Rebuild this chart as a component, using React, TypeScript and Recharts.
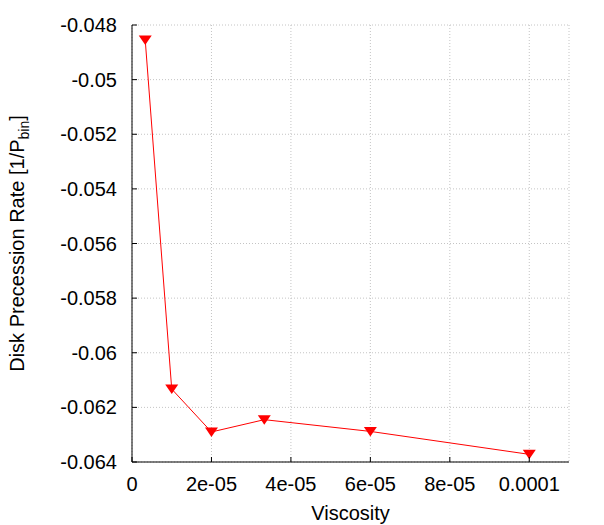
import React from "react"
import { LineChart, Line, XAxis, YAxis, CartesianGrid, Label } from "recharts"

const viscosity = [3.33e-6, 1e-5, 2e-5, 3.33e-5, 6e-5, 1e-4]
const precessionRate = [-0.04855, -0.06133, -0.0629, -0.06245, -0.06288, -0.06372]

const xTicks = [0, 2e-5, 4e-5, 6e-5, 8e-5, 1e-4]
const xTickLabels = ["0", "2e-05", "4e-05", "6e-05", "8e-05", "0.0001"]
const yTicks = [-0.064, -0.062, -0.06, -0.058, -0.056, -0.054, -0.052, -0.05, -0.048]
const yTickLabels = ["-0.064", "-0.062", "-0.06", "-0.058", "-0.056", "-0.054", "-0.052", "-0.05", "-0.048"]

const data = viscosity.map((v, i) => ({ x: v, y: precessionRate[i] }))

const FONT = "'Liberation Sans', Arial, Helvetica, sans-serif"
const TICK_LEN = 5

function labelFor(value: number, ticks: number[], labels: string[]) {
    let best = 0
    ticks.forEach((t, i) => {
        if (Math.abs(t - value) < Math.abs(ticks[best] - value)) best = i
    })
    return labels[best]
}

function BottomTick(props: any) {
    const { x, y, payload } = props
    return (
        <g>
            <line x1={x} y1={y} x2={x} y2={y - TICK_LEN} stroke="#000" />
            <text x={x} y={y + 28.5} textAnchor="middle" fontSize={20} fontFamily={FONT} fill="#000">
                {labelFor(payload.value, xTicks, xTickLabels)}
            </text>
        </g>
    )
}

function TopTick(props: any) {
    const { x, y } = props
    return <line x1={x} y1={y} x2={x} y2={y + TICK_LEN} stroke="#000" />
}

function LeftTick(props: any) {
    const { x, y, payload } = props
    return (
        <g>
            <line x1={x} y1={y} x2={x + TICK_LEN} y2={y} stroke="#000" />
            <text x={x - 15} y={y + 7} textAnchor="end" fontSize={20} fontFamily={FONT} fill="#000">
                {labelFor(payload.value, yTicks, yTickLabels)}
            </text>
        </g>
    )
}

function RightTick(props: any) {
    const { x, y } = props
    return <line x1={x} y1={y} x2={x - TICK_LEN} y2={y} stroke="#000" />
}

function TriangleDown(props: any) {
    const { cx, cy } = props
    if (cx == null || cy == null) return null
    return <path d={`M${cx - 6.5},${cy - 4.5} L${cx + 6.5},${cy - 4.5} L${cx},${cy + 5} Z`} fill="#ff0000" />
}

function YTitle(props: any) {
    const { viewBox } = props
    const cx = 24
    const cy = viewBox.y + viewBox.height / 2
    return (
        <text
            x={cx}
            y={cy}
            transform={`rotate(-90, ${cx}, ${cy})`}
            textAnchor="middle"
            fontSize={20}
            fontFamily={FONT}
            fill="#000"
        >
            Disk Precession Rate [1/P
            <tspan fontSize={14} dy={5}>bin</tspan>
            <tspan dy={-5}>]</tspan>
        </text>
    )
}

function XTitle(props: any) {
    const { viewBox } = props
    return (
        <text
            x={viewBox.x + viewBox.width / 2}
            y={viewBox.y + 57.5}
            textAnchor="middle"
            fontSize={20}
            fontFamily={FONT}
            fill="#000"
        >
            Viscosity
        </text>
    )
}

export default function App() {
    return (
        <div style={{ position: "absolute", left: 0, top: 0, width: 604, height: 525, background: "#fff" }}>
            <LineChart width={604} height={525} data={data} margin={{ top: 25, right: 35, left: 0, bottom: 0 }}>
                <CartesianGrid stroke="#c4c4c4" strokeDasharray="1 2" />
                <XAxis
                    dataKey="x"
                    type="number"
                    domain={[0, 0.00011]}
                    ticks={xTicks}
                    allowDataOverflow
                    height={63}
                    tickSize={0}
                    tickMargin={0}
                    tickLine={false}
                    axisLine={{ stroke: "#000" }}
                    tick={<BottomTick />}
                >
                    <Label content={<XTitle />} />
                </XAxis>
                <XAxis
                    xAxisId="top"
                    orientation="top"
                    dataKey="x"
                    type="number"
                    domain={[0, 0.00011]}
                    ticks={xTicks}
                    allowDataOverflow
                    height={0}
                    tickSize={0}
                    tickMargin={0}
                    tickLine={false}
                    axisLine={{ stroke: "#000" }}
                    tick={<TopTick />}
                />
                <YAxis
                    type="number"
                    domain={[-0.064, -0.048]}
                    ticks={yTicks}
                    allowDataOverflow
                    width={132}
                    tickSize={0}
                    tickMargin={0}
                    tickLine={false}
                    axisLine={{ stroke: "#000" }}
                    tick={<LeftTick />}
                >
                    <Label content={<YTitle />} />
                </YAxis>
                <YAxis
                    yAxisId="right"
                    orientation="right"
                    type="number"
                    domain={[-0.064, -0.048]}
                    ticks={yTicks}
                    allowDataOverflow
                    width={0}
                    tickSize={0}
                    tickMargin={0}
                    tickLine={false}
                    axisLine={{ stroke: "#000" }}
                    tick={<RightTick />}
                />
                <Line
                    dataKey="y"
                    stroke="#ff0000"
                    strokeWidth={1}
                    dot={<TriangleDown />}
                    activeDot={false}
                    isAnimationActive={false}
                />
            </LineChart>
        </div>
    )
}
